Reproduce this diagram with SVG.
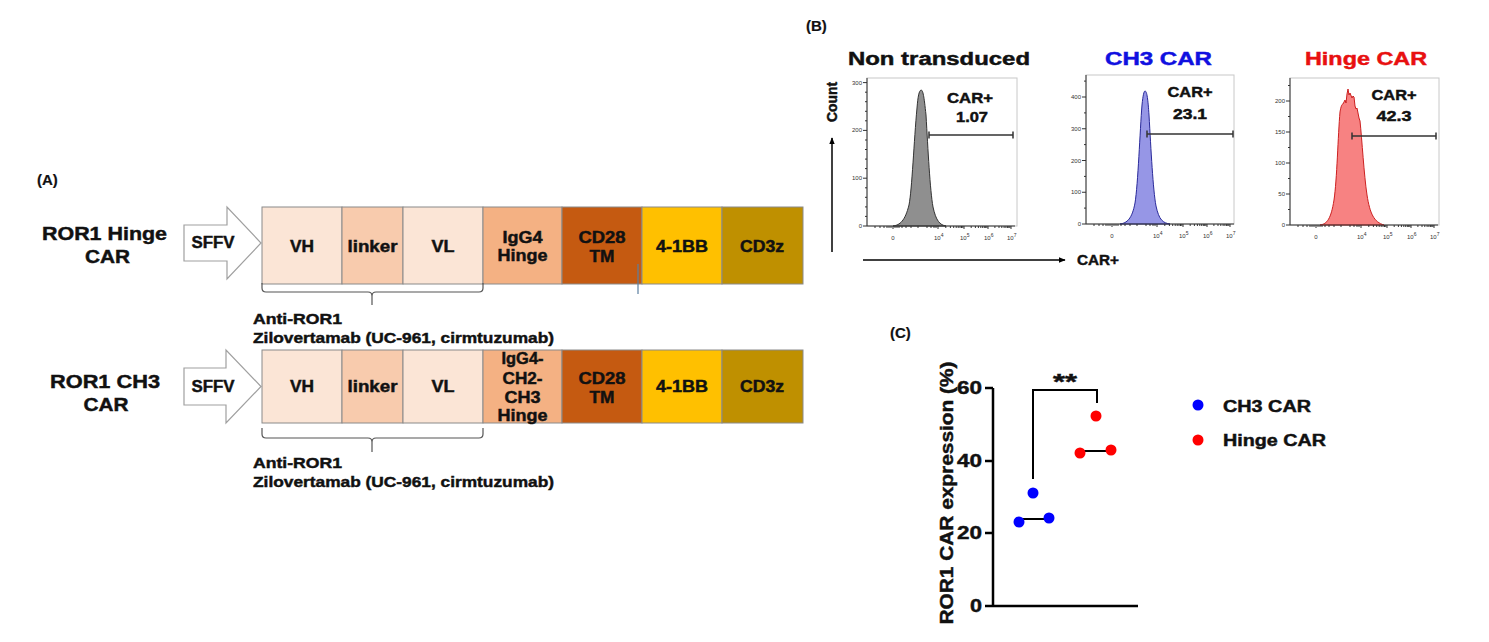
<svg xmlns="http://www.w3.org/2000/svg" xmlns:xlink="http://www.w3.org/1999/xlink" width="1489" height="642" viewBox="0 0 1489 642">
<defs>
<style>
text{font-family:"Liberation Sans",Arial,sans-serif;font-weight:bold;fill:#111;stroke:#111;stroke-width:0.45px;}
.lbl{font-size:16px;text-anchor:middle;}
.panel{font-size:15px;stroke-width:0.2px;}
.box{stroke:#8a8a8a;stroke-width:1;}
.vh{fill:#fbe5d6;}
.lk{fill:#f8cbad;}
.hg{fill:#f4b183;}
.cd28{fill:#c55a11;}
.bb{fill:#ffc000;}
.cd3{fill:#bf9000;}
.sffv{fill:#fff;stroke:#a0a0a0;stroke-width:1.2;}
.brace{fill:none;stroke:#555;stroke-width:1.2;}
.frame{fill:none;stroke:#c8c8c8;stroke-width:1;}
.ax{fill:none;stroke:#333;stroke-width:1;}
.tk{font-size:6px;font-weight:normal;fill:#333;stroke:none;}
.tkr{font-size:6px;font-weight:normal;fill:#333;stroke:none;text-anchor:end;}
.gate{fill:none;stroke:#333;stroke-width:1.5;}
.car{font-size:14px;text-anchor:middle;}
.title{font-size:18px;}
.cax{fill:none;stroke:#000;stroke-width:2.5;}
.clab{font-size:18px;text-anchor:end;}
.leg{font-size:16px;}
</style>
<marker id="ah" viewBox="0 0 10 10" refX="9" refY="5" markerWidth="7" markerHeight="7" orient="auto" markerUnits="userSpaceOnUse">
<path d="M0,1 L10,5 L0,9 Z" fill="#000"/>
</marker>
<g id="xticks">
<path class="ax" d="M0,0 H148 M26,0 v3 M71,0 v3 M97,0 v3 M121,0 v3 M144,0 v3 M8,0 v2 M13,0 v2 M17,0 v2 M20,0 v2 M22,0 v2 M24,0 v2 M28,0 v2 M30,0 v2 M32,0 v2 M35,0 v2 M39,0 v2 M44,0 v2 M51,0 v2 M60,0 v2 M64,0 v2 M67,0 v2 M69,0 v2 M78.8,0 v2 M83.4,0 v2 M86.7,0 v2 M89.2,0 v2 M91.2,0 v2 M93,0 v2 M94.5,0 v2 M95.8,0 v2 M104.2,0 v2 M108.4,0 v2 M111.4,0 v2 M113.8,0 v2 M115.7,0 v2 M117.3,0 v2 M118.7,0 v2 M119.9,0 v2 M127.9,0 v2 M132,0 v2 M134.8,0 v2 M137.1,0 v2 M138.9,0 v2 M140.4,0 v2 M141.8,0 v2 M142.9,0 v2"/>
<text class="tk" x="26" y="14" text-anchor="middle">0</text>
<text class="tk" x="67" y="14">10<tspan dy="-3" font-size="5">4</tspan></text>
<text class="tk" x="93" y="14">10<tspan dy="-3" font-size="5">5</tspan></text>
<text class="tk" x="117" y="14">10<tspan dy="-3" font-size="5">6</tspan></text>
<text class="tk" x="140" y="14">10<tspan dy="-3" font-size="5">7</tspan></text>
</g>
</defs>
<rect width="1489" height="642" fill="#fff"/>

<!-- Panel A -->
<g id="panelA-label"><text class="panel" x="37" y="185" font-size="16">(A)</text></g>

<g id="row1-label">
<text x="104.5" y="240" font-size="19" text-anchor="middle" textLength="125" lengthAdjust="spacingAndGlyphs">ROR1 Hinge</text>
<text x="107.5" y="263" font-size="19" text-anchor="middle" textLength="45" lengthAdjust="spacingAndGlyphs">CAR</text>
</g>
<g id="row1-sffv">
<path class="sffv" d="M184,225 H227 V207 L261,243 L227,279 V261 H184 Z"/>
<text x="213" y="248" font-size="16" text-anchor="middle" textLength="43" lengthAdjust="spacingAndGlyphs">SFFV</text>
</g>
<g id="row1-vh"><rect class="box vh" x="262" y="207" width="80" height="77"/><text class="lbl" x="302" y="252" textLength="24" lengthAdjust="spacingAndGlyphs">VH</text></g>
<g id="row1-linker"><rect class="box lk" x="342" y="207" width="61" height="77"/><text class="lbl" x="372.5" y="252" textLength="50" lengthAdjust="spacingAndGlyphs">linker</text></g>
<g id="row1-vl"><rect class="box vh" x="403" y="207" width="80" height="77"/><text class="lbl" x="443" y="252" textLength="23" lengthAdjust="spacingAndGlyphs">VL</text></g>
<g id="row1-hinge"><rect class="box hg" x="483" y="207" width="79" height="77"/><text class="lbl" x="522.5" y="243" textLength="40" lengthAdjust="spacingAndGlyphs">IgG4</text><text class="lbl" x="522.5" y="261" textLength="50" lengthAdjust="spacingAndGlyphs">Hinge</text></g>
<g id="row1-cd28"><rect class="box cd28" x="562" y="207" width="80" height="77"/><text class="lbl" x="602" y="243" textLength="47" lengthAdjust="spacingAndGlyphs">CD28</text><text class="lbl" x="602" y="262" textLength="25" lengthAdjust="spacingAndGlyphs">TM</text></g>
<g id="row1-41bb"><rect class="box bb" x="642" y="207" width="80" height="77"/><text class="lbl" x="682" y="252" textLength="52" lengthAdjust="spacingAndGlyphs">4-1BB</text></g>
<g id="row1-cd3z"><rect class="box cd3" x="722" y="207" width="81" height="77"/><text class="lbl" x="762" y="252" textLength="44" lengthAdjust="spacingAndGlyphs">CD3z</text></g>
<g id="row1-antibody">
<text x="253" y="324" font-size="15" textLength="89" lengthAdjust="spacingAndGlyphs">Anti-ROR1</text>
<text x="253" y="343" font-size="15" textLength="301" lengthAdjust="spacingAndGlyphs">Zilovertamab (UC-961, cirmtuzumab)</text>
</g>

<g id="row2-label">
<text x="105" y="388" font-size="19" text-anchor="middle" textLength="110" lengthAdjust="spacingAndGlyphs">ROR1 CH3</text>
<text x="106" y="411" font-size="19" text-anchor="middle" textLength="45" lengthAdjust="spacingAndGlyphs">CAR</text>
</g>
<g id="row2-sffv">
<path class="sffv" d="M184,368 H226 V350 L261,386.5 L226,423 V405 H184 Z"/>
<text x="213" y="392" font-size="16" text-anchor="middle" textLength="43" lengthAdjust="spacingAndGlyphs">SFFV</text>
</g>
<g id="row2-vh"><rect class="box vh" x="262" y="350" width="80" height="73"/><text class="lbl" x="302" y="392" textLength="24" lengthAdjust="spacingAndGlyphs">VH</text></g>
<g id="row2-linker"><rect class="box lk" x="342" y="350" width="61" height="73" stroke="#555"/><text class="lbl" x="372.5" y="392" textLength="50" lengthAdjust="spacingAndGlyphs">linker</text></g>
<g id="row2-vl"><rect class="box vh" x="403" y="350" width="80" height="73"/><text class="lbl" x="443" y="392" textLength="23" lengthAdjust="spacingAndGlyphs">VL</text></g>
<g id="row2-hinge"><rect class="box hg" x="483" y="350" width="79" height="73"/>
<text class="lbl" x="522.5" y="364" textLength="42" lengthAdjust="spacingAndGlyphs">IgG4-</text>
<text class="lbl" x="522.5" y="384" textLength="40" lengthAdjust="spacingAndGlyphs">CH2-</text>
<text class="lbl" x="522.5" y="403" textLength="36" lengthAdjust="spacingAndGlyphs">CH3</text>
<text class="lbl" x="522.5" y="421" textLength="50" lengthAdjust="spacingAndGlyphs">Hinge</text></g>
<g id="row2-cd28"><rect class="box cd28" x="562" y="350" width="80" height="73"/><text class="lbl" x="602" y="384" textLength="47" lengthAdjust="spacingAndGlyphs">CD28</text><text class="lbl" x="602" y="403" textLength="25" lengthAdjust="spacingAndGlyphs">TM</text></g>
<g id="row2-41bb"><rect class="box bb" x="642" y="350" width="80" height="73"/><text class="lbl" x="682" y="392" textLength="52" lengthAdjust="spacingAndGlyphs">4-1BB</text></g>
<g id="row2-cd3z"><rect class="box cd3" x="722" y="350" width="81" height="73"/><text class="lbl" x="762" y="392" textLength="44" lengthAdjust="spacingAndGlyphs">CD3z</text></g>
<g id="row2-antibody">
<text x="253" y="468" font-size="15" textLength="89" lengthAdjust="spacingAndGlyphs">Anti-ROR1</text>
<text x="253" y="487" font-size="15" textLength="301" lengthAdjust="spacingAndGlyphs">Zilovertamab (UC-961, cirmtuzumab)</text>
</g>

<g id="connectors">
<path class="brace" d="M262,283 V288 Q262,292 266,292 H368 Q372,292 372,296 V305 M372,296 Q372,292 376,292 H479 Q483,292 483,288 V283"/>
<path class="brace" d="M262,428 V434 Q262,438 266,438 H368 Q372,438 372,442 V452 M372,442 Q372,438 376,438 H479 Q483,438 483,434 V428"/>
<line x1="638" y1="264" x2="638" y2="294" stroke="#5b7fa0" stroke-width="1.2"/>
<line x1="832" y1="252" x2="832" y2="138" stroke="#000" stroke-width="1.5" marker-end="url(#ah)"/>
<line x1="863" y1="260" x2="1065" y2="260" stroke="#000" stroke-width="1.5" marker-end="url(#ah)"/>
<path d="M1033,479 V390 H1097 V403" fill="none" stroke="#000" stroke-width="2"/>
</g>

<!-- Panel B -->
<g id="panelB-label"><text class="panel" x="806" y="31" font-size="15">(B)</text></g>
<g id="count-axis"><text x="837" y="102" font-size="14" text-anchor="middle" transform="rotate(-90 837 102)" textLength="40" lengthAdjust="spacingAndGlyphs">Count</text></g>
<g id="car-axis"><text x="1077" y="265" font-size="15" textLength="42" lengthAdjust="spacingAndGlyphs">CAR+</text></g>

<g id="hist-nt">
<text class="title" x="848" y="65" textLength="182" lengthAdjust="spacingAndGlyphs">Non transduced</text>
<rect class="frame" x="867" y="78" width="150" height="148"/>
<path d="M893,226 C900,225 905,221 909,205 C912,190 914,140 917,108 C918,96 919,91 921,90 C923,90 924,96 926,115 C928,150 930,190 933,207 C936,221 940,225 946,226 Z" fill="#8f8f8f" stroke="#333" stroke-width="1"/>
<path class="ax" d="M867,78 V226 M863,226 h4 M863,178.2 h4 M863,130.4 h4 M863,82.6 h4 M865,216.4 h2 M865,206.9 h2 M865,197.3 h2 M865,187.8 h2 M865,168.6 h2 M865,159.1 h2 M865,149.5 h2 M865,140 h2 M865,120.8 h2 M865,111.3 h2 M865,101.7 h2 M865,92.2 h2"/>
<text class="tkr" x="862" y="228">0</text><text class="tkr" x="862" y="180">100</text><text class="tkr" x="862" y="132">200</text><text class="tkr" x="862" y="85">300</text>
<use xlink:href="#xticks" href="#xticks" x="867" y="226"/>
<path class="gate" d="M929,135 H1013 M929,131.5 V138.5 M1013,131.5 V138.5"/>
<text class="car" x="970" y="103" textLength="46" lengthAdjust="spacingAndGlyphs">CAR+</text>
<text class="car" x="972" y="122" textLength="32" lengthAdjust="spacingAndGlyphs">1.07</text>
</g>

<g id="hist-ch3">
<text class="title" x="1105" y="65" textLength="107" lengthAdjust="spacingAndGlyphs" style="fill:#1010e0;stroke:#1010e0">CH3 CAR</text>
<rect class="frame" x="1086" y="75" width="148" height="149"/>
<path d="M1120,224 C1127,223 1132,219 1135,203 C1138,185 1140,130 1142,105 C1143,95 1144,91 1145,91 C1147,91 1148,100 1149,115 C1151,150 1153,190 1156,206 C1159,220 1163,223 1170,224 Z" fill="#9696e6" stroke="#2a2a9a" stroke-width="1"/>
<path class="ax" d="M1086,75 V224 M1082,224 h4 M1082,192.25 h4 M1082,160.5 h4 M1082,128.75 h4 M1082,97 h4 M1084,208.1 h2 M1084,176.4 h2 M1084,144.6 h2 M1084,112.9 h2 M1084,81.1 h2"/>
<text class="tkr" x="1081" y="226">0</text><text class="tkr" x="1081" y="194">100</text><text class="tkr" x="1081" y="162.5">200</text><text class="tkr" x="1081" y="131">300</text><text class="tkr" x="1081" y="99">400</text>
<use xlink:href="#xticks" href="#xticks" x="1086" y="224"/>
<path class="gate" d="M1147,134 H1233 M1147,130.5 V137.5 M1233,130.5 V137.5"/>
<text class="car" x="1190" y="97" textLength="45" lengthAdjust="spacingAndGlyphs">CAR+</text>
<text class="car" x="1190" y="119" textLength="34" lengthAdjust="spacingAndGlyphs">23.1</text>
</g>

<g id="hist-hinge">
<text class="title" x="1305" y="65" textLength="122" lengthAdjust="spacingAndGlyphs" style="fill:#e81010;stroke:#e81010">Hinge CAR</text>
<rect class="frame" x="1290" y="78" width="149" height="147"/>
<path d="M1320,225 C1327,224 1331,219 1334,200 C1337,180 1338,135 1340,112 C1341,106 1342,104 1343,104 L1345,100 L1346,103 L1347,94 L1348,89 L1349,95 L1350,93 L1352,98 L1353,96 L1354,97 L1355,106 L1356,109 L1357,108 L1358,113 L1359,118 L1360,121 C1362,140 1364,175 1367,195 C1370,214 1374,222 1384,225 Z" fill="#f78282" stroke="#cc2020" stroke-width="1"/>
<path class="ax" d="M1290,78 V225 M1286,225 h4 M1286,194 h4 M1286,163 h4 M1286,132 h4 M1286,101 h4 M1288,209.5 h2 M1288,178.5 h2 M1288,147.5 h2 M1288,116.5 h2 M1288,85.5 h2"/>
<text class="tkr" x="1285" y="227">0</text><text class="tkr" x="1285" y="196">50</text><text class="tkr" x="1285" y="165">100</text><text class="tkr" x="1285" y="134">150</text><text class="tkr" x="1285" y="103">200</text>
<use xlink:href="#xticks" href="#xticks" x="1290" y="225"/>
<path class="gate" d="M1352,136 H1436 M1352,132.5 V139.5 M1436,132.5 V139.5"/>
<text class="car" x="1394" y="100" textLength="45" lengthAdjust="spacingAndGlyphs">CAR+</text>
<text class="car" x="1394" y="121" textLength="35" lengthAdjust="spacingAndGlyphs">42.3</text>
</g>

<!-- Panel C -->
<g id="panelC-label"><text class="panel" x="890" y="338" font-size="15">(C)</text></g>
<g id="plotC">
<path class="cax" d="M993,388 V606 H1138 M985,388 H993 M985,461 H993 M985,533 H993 M985,606 H993"/>
<text class="clab" x="982" y="394" textLength="25" lengthAdjust="spacingAndGlyphs">60</text>
<text class="clab" x="982" y="467" textLength="25" lengthAdjust="spacingAndGlyphs">40</text>
<text class="clab" x="982" y="539" textLength="25" lengthAdjust="spacingAndGlyphs">20</text>
<text class="clab" x="982" y="612" textLength="12" lengthAdjust="spacingAndGlyphs">0</text>
<text x="953" y="493" font-size="19" text-anchor="middle" transform="rotate(-90 953 493)" textLength="263" lengthAdjust="spacingAndGlyphs">ROR1 CAR expression (%)</text>
<text x="1065" y="389" font-size="22" text-anchor="middle" textLength="24" lengthAdjust="spacingAndGlyphs">**</text>
</g>
<g id="ch3-points">
<line x1="1019" y1="519" x2="1049" y2="519" stroke="#000" stroke-width="2"/>
<circle cx="1019" cy="522" r="5.5" fill="#0000ff"/>
<circle cx="1049" cy="518" r="5.5" fill="#0000ff"/>
<circle cx="1033" cy="493" r="5.5" fill="#0000ff"/>
</g>
<g id="hinge-points">
<line x1="1080" y1="451" x2="1111" y2="451" stroke="#000" stroke-width="2"/>
<circle cx="1080" cy="453" r="5.5" fill="#ff0000"/>
<circle cx="1111" cy="450" r="5.5" fill="#ff0000"/>
<circle cx="1096" cy="416" r="5.5" fill="#ff0000"/>
</g>
<g id="legend">
<circle cx="1198" cy="405" r="5.5" fill="#0000ff"/>
<text class="leg" x="1223" y="412" textLength="88" lengthAdjust="spacingAndGlyphs">CH3 CAR</text>
<circle cx="1198" cy="440" r="5.5" fill="#ff0000"/>
<text class="leg" x="1223" y="446" textLength="103" lengthAdjust="spacingAndGlyphs">Hinge CAR</text>
</g>
</svg>
